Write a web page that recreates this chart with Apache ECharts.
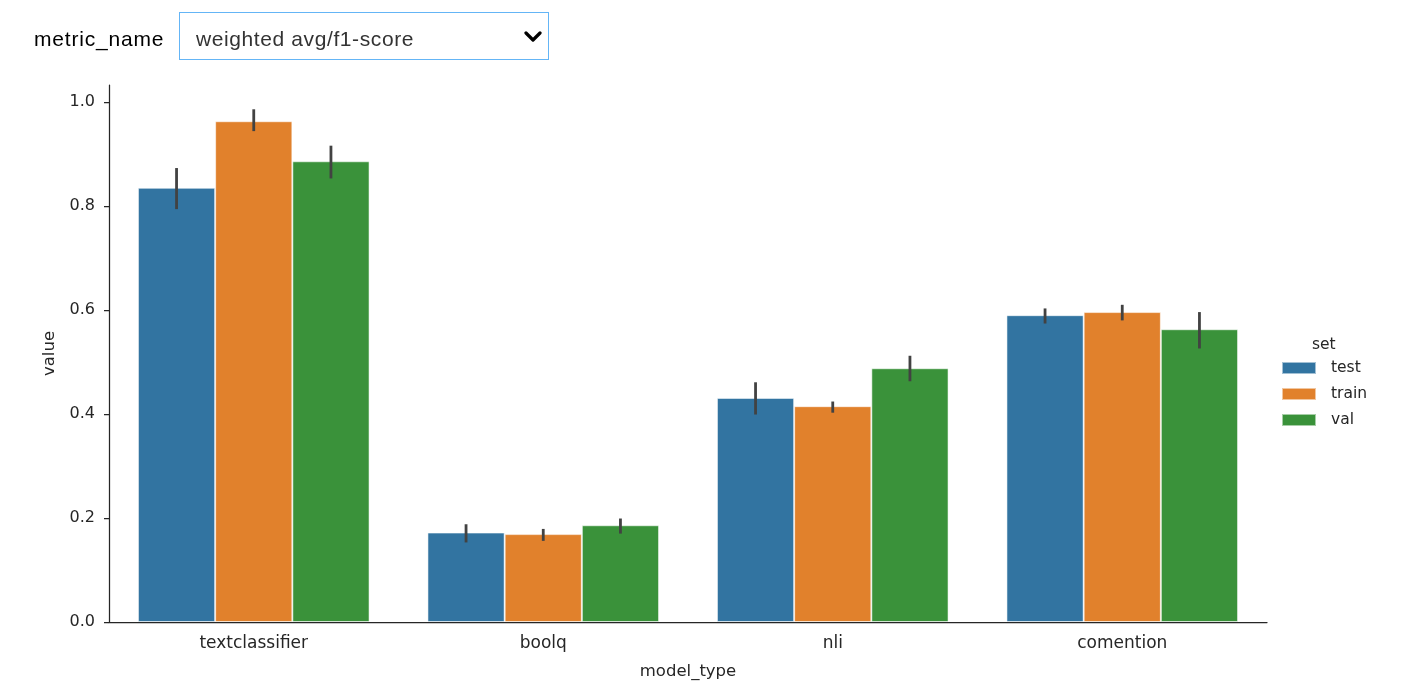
<!DOCTYPE html>
<html>
<head>
<meta charset="utf-8">
<script src="https://cdn.jsdelivr.net/npm/echarts@6/dist/echarts.min.js"></script>
<style>
  html, body { margin: 0; padding: 0; background: #fff; }
  #chart { position: absolute; left: 0; top: 0; width: 1404px; height: 699px; }
  #hdr-label { position: absolute; left: 34px; top: 26px; font-family: "Liberation Sans", Arial, sans-serif; font-size: 21px; letter-spacing: 0.8px; color: #000; line-height: 26px; }
  #hdr-select { position: absolute; left: 179px; top: 12px; width: 368px; height: 46px; border: 1px solid #64b5f6; background: #fff; box-sizing: content-box; }
  #hdr-select span { position: absolute; left: 16px; top: 13px; font-family: "Liberation Sans", Arial, sans-serif; font-size: 21px; letter-spacing: 0.6px; color: #333; line-height: 26px; }
  #hdr-select svg { position: absolute; left: 344px; top: 18px; }
</style>
</head>
<body>
<div id="chart"></div>
<div id="hdr-label">metric_name</div>
<div id="hdr-select"><span>weighted avg/f1-score</span>
<svg width="18" height="12" viewBox="0 0 18 12"><path d="M2 2 L9 9 L16 2" stroke="#000" stroke-width="3.2" fill="none" stroke-linecap="round" stroke-linejoin="round"/></svg>
</div>
<script>
const categories = ['textclassifier', 'boolq', 'nli', 'comention'];
const setNames = ['test', 'train', 'val'];
const testVals  = [0.835, 0.172, 0.431, 0.590];
const trainVals = [0.963, 0.169, 0.415, 0.596];
const valVals   = [0.886, 0.186, 0.488, 0.563];
const testLo  = [0.794, 0.153, 0.399, 0.574];
const testHi  = [0.873, 0.188, 0.461, 0.603];
const trainLo = [0.944, 0.156, 0.4025, 0.580];
const trainHi = [0.986, 0.179, 0.424, 0.610];
const valLo   = [0.853, 0.170, 0.463, 0.526];
const valHi   = [0.916, 0.199, 0.512, 0.596];
const yTicks = [0, 0.2, 0.4, 0.6, 0.8, 1.0];

const colors = ['#3274a1', '#e1812c', '#3a923a'];
const values = [testVals, trainVals, valVals];
const los = [testLo, trainLo, valLo];
const his = [testHi, trainHi, valHi];
const txt = '#262626';
const font = 'DejaVu Sans';

const chart = echarts.init(document.getElementById('chart'));

const series = [];
setNames.forEach((name, k) => {
  series.push({
    name: name,
    type: 'bar',
    data: values[k],
    barGap: '0%',
    barCategoryGap: '20%',
    itemStyle: { color: colors[k], borderColor: 'rgba(255,255,255,0.55)', borderWidth: 1 },
    emphasis: { disabled: true },
    z: 2
  });
});
setNames.forEach((name, k) => {
  series.push({
    name: name + '_err',
    type: 'custom',
    data: categories.map((c, i) => [i, los[k][i], his[k][i]]),
    encode: { x: 0, y: [1, 2] },
    z: 5,
    silent: true,
    renderItem: function (params, api) {
      const i = api.value(0);
      const band = api.size([1, 0])[0];
      const barW = band * 0.8 / 3;
      const off = (k - 1) * barW;
      const p1 = api.coord([i, api.value(1)]);
      const p2 = api.coord([i, api.value(2)]);
      return {
        type: 'line',
        shape: { x1: p1[0] + off, y1: p1[1], x2: p2[0] + off, y2: p2[1] },
        style: { stroke: '#424242', lineWidth: 2.8 }
      };
    }
  });
});

chart.setOption({
  animation: false,
  title: {
    text: 'set', left: 1312, top: 337, padding: 0,
    textStyle: { fontSize: 15.5, fontWeight: 'normal', color: txt, fontFamily: font }
  },
  legend: {
    data: setNames,
    orient: 'vertical',
    left: 1281, top: 360, padding: 0,
    icon: 'rect',
    itemWidth: 34, itemHeight: 12,
    itemGap: 10,
    textStyle: { fontSize: 15.5, color: txt, fontFamily: font, lineHeight: 16, padding: [0, 0, 0, 10] },
    selectedMode: false
  },
  grid: { left: 109, right: 137, top: 85, bottom: 77, containLabel: false },
  xAxis: {
    type: 'category',
    data: categories,
    name: 'model_type',
    nameLocation: 'middle',
    nameGap: 41,
    nameTextStyle: { fontSize: 16.5, color: txt, fontFamily: font },
    axisLine: { lineStyle: { color: txt, width: 1.25 } },
    axisTick: { alignWithLabel: true, length: 5, lineStyle: { color: txt, width: 1.25 } },
    axisLabel: { fontSize: 17, color: txt, fontFamily: font, margin: 13 },
    splitLine: { show: false }
  },
  yAxis: {
    type: 'value',
    min: 0, max: 1.0327,
    name: 'value',
    nameLocation: 'middle',
    nameGap: 44,
    nameTextStyle: { fontSize: 16.5, color: txt, fontFamily: font },
    axisLine: { show: true, lineStyle: { color: txt, width: 1.25 } },
    axisTick: { show: true, length: 5, customValues: yTicks, lineStyle: { color: txt, width: 1.25 } },
    axisLabel: { fontSize: 16, color: txt, fontFamily: font, margin: 14, customValues: yTicks,
      formatter: v => v.toFixed(1) },
    splitLine: { show: false }
  },
  series: series
});
</script>
</body>
</html>
